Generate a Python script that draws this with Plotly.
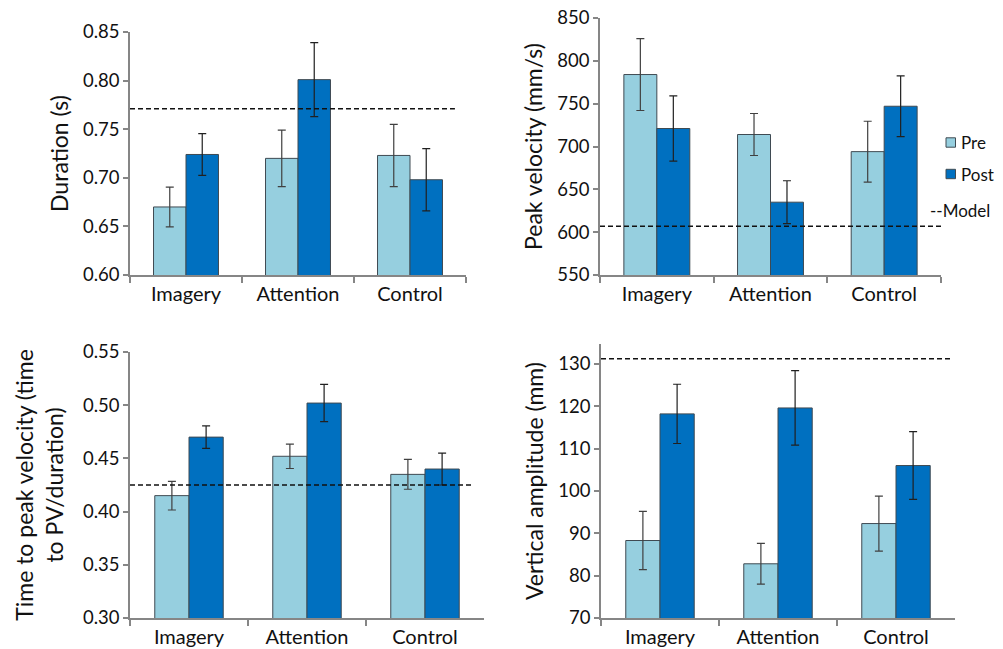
import plotly.graph_objects as go

categories = ["Imagery", "Attention", "Control"]

# Panel 1: Duration (s)
dur_pre = [0.670, 0.720, 0.723]
dur_pre_err = [0.0205, 0.029, 0.032]
dur_post = [0.724, 0.801, 0.698]
dur_post_err = [0.0215, 0.038, 0.032]
dur_model = 0.771

# Panel 2: Peak velocity (mm/s)
pv_pre = [784, 714, 694]
pv_pre_err = [42, 24.5, 35.5]
pv_post = [721, 635, 747]
pv_post_err = [38, 25, 35.5]
pv_model = 607

# Panel 3: Time to peak velocity
tpv_pre = [0.415, 0.452, 0.435]
tpv_pre_err = [0.0135, 0.0115, 0.014]
tpv_post = [0.470, 0.502, 0.440]
tpv_post_err = [0.0105, 0.0175, 0.015]
tpv_model = 0.425

# Panel 4: Vertical amplitude (mm)
va_pre = [88.3, 82.8, 92.3]
va_pre_err = [6.9, 4.8, 6.5]
va_post = [118.2, 119.6, 106.0]
va_post_err = [7.0, 8.8, 8.0]
va_model = 131.2

series_names = ["Pre", "Post"]

PRE_COLOR = "#96CFDF"
POST_COLOR = "#0070C0"
EDGE = "#3F4A52"
AXIS = "#868686"
FONT = "Lato"
W, H = 1003, 649

panels = [
    dict(pre=dur_pre, pre_err=dur_pre_err, post=dur_post, post_err=dur_post_err, model=dur_model,
         rng=[0.60, 0.85], dtick=0.05, fmt=".2f", title="Duration (s)",
         xd=[130 / W, 466 / W], yd=[1 - 275 / H, 1 - 32 / H], mx1=0.967, standoff=8),
    dict(pre=pv_pre, pre_err=pv_pre_err, post=pv_post, post_err=pv_post_err, model=pv_model,
         rng=[550, 850], dtick=50, fmt="d", title="Peak velocity (mm/s)",
         xd=[600 / W, 941 / W], yd=[1 - 275 / H, 1 - 18 / H], mx1=1.0, standoff=8),
    dict(pre=tpv_pre, pre_err=tpv_pre_err, post=tpv_post, post_err=tpv_post_err, model=tpv_model,
         rng=[0.30, 0.55], dtick=0.05, fmt=".2f", title="Time to peak velocity (time<br>to PV/duration)",
         xd=[130 / W, 484 / W], yd=[1 - 618 / H, 1 - 352 / H], mx1=0.966, standoff=13),
    dict(pre=va_pre, pre_err=va_pre_err, post=va_post, post_err=va_post_err, model=va_model,
         rng=[70, 134.7], dtick=10, fmt="d", title="Vertical amplitude (mm)",
         xd=[601 / W, 955 / W], yd=[1 - 618 / H, 1 - 344 / H], mx1=0.992, standoff=8),
]

fig = go.Figure()
layout = {}
shapes = []
for i, p in enumerate(panels):
    n = "" if i == 0 else str(i + 1)
    xa, ya = "x" + n, "y" + n
    fig.add_trace(go.Bar(
        x=categories, y=p["pre"], name=series_names[0], xaxis=xa, yaxis=ya,
        marker=dict(color=PRE_COLOR, line=dict(color=EDGE, width=1)),
        error_y=dict(type="data", array=p["pre_err"], color="#404040", thickness=1.2, width=4),
        showlegend=False,
    ))
    fig.add_trace(go.Bar(
        x=categories, y=p["post"], name=series_names[1], xaxis=xa, yaxis=ya,
        marker=dict(color=POST_COLOR, line=dict(color=EDGE, width=1)),
        error_y=dict(type="data", array=p["post_err"], color="#202020", thickness=1.2, width=4),
        showlegend=False,
    ))
    layout["xaxis" + n] = dict(
        domain=p["xd"], anchor=ya, type="category", showline=True, linecolor=AXIS, linewidth=1.5,
        ticks="outside", tickson="boundaries", ticklen=6, tickcolor=AXIS, tickwidth=1.5,
        tickfont=dict(family=FONT, size=20, color="#111"), showgrid=False, zeroline=False,
        automargin=False,
    )
    layout["yaxis" + n] = dict(
        domain=p["yd"], anchor=xa, range=p["rng"], dtick=p["dtick"], tick0=p["rng"][0],
        tickformat=p["fmt"], showline=True, linecolor=AXIS, linewidth=1.5,
        ticks="outside", ticklen=5, tickcolor=AXIS, tickwidth=1.5,
        tickfont=dict(family=FONT, size=18.5, color="#111"), showgrid=False, zeroline=False,
        automargin=False,
        title=dict(text=p["title"], font=dict(family=FONT, size=23, color="#111"), standoff=p["standoff"]),
    )
    shapes.append(dict(type="line", xref=xa + " domain", yref=ya, x0=0, x1=p["mx1"],
                       y0=p["model"], y1=p["model"],
                       line=dict(color="#111", width=1.5, dash="5px,3px")))

# manual legend (in panel 2's right margin)
legend_items = [(series_names[0], PRE_COLOR, 142.5), (series_names[1], POST_COLOR, 174)]
annotations = []
for name, col, yc in legend_items:
    shapes.append(dict(type="rect", xref="paper", yref="paper",
                       x0=946 / W, x1=955.5 / W, y0=1 - (yc + 4.7) / H, y1=1 - (yc - 4.7) / H,
                       fillcolor=col, line=dict(color=EDGE, width=1)))
    annotations.append(dict(text=name, xref="paper", yref="paper", x=959 / W, y=1 - yc / H,
                            xanchor="left", yanchor="middle", showarrow=False,
                            font=dict(family=FONT, size=17, color="#111")))
annotations.append(dict(text="--Model", xref="paper", yref="paper", x=992 / W, y=1 - 210 / H,
                        xanchor="right", yanchor="middle", showarrow=False,
                        font=dict(family=FONT, size=17, color="#111")))

fig.update_layout(
    width=W, height=H, margin=dict(l=0, r=0, t=0, b=0, autoexpand=False),
    paper_bgcolor="white", plot_bgcolor="white",
    barmode="group", bargap=0.42, bargroupgap=0,
    shapes=shapes, annotations=annotations,
    showlegend=False,
    **layout,
)

fig.write_html(
    "out.html",
    config={"displayModeBar": False},
    post_script="document.body.style.margin='0';document.body.style.padding='0';"
                "document.body.style.overflow='hidden';",
)
